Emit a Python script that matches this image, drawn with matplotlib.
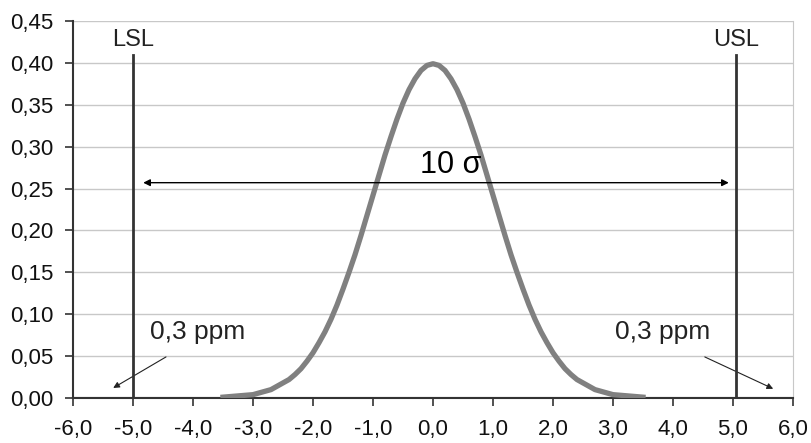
import numpy as np
import matplotlib.pyplot as plt

# curve (x step 0.1 in the middle)
x_curve = [-3.5] + [round(v, 1) for v in np.arange(-3.0, 3.01, 0.1)] + [3.5]
half = [0.004, 0.006, 0.008, 0.010, 0.014, 0.018, 0.022, 0.028, 0.035, 0.044,
        0.054, 0.066, 0.079, 0.094, 0.111, 0.130, 0.150, 0.171, 0.194, 0.218,
        0.242, 0.266, 0.290, 0.312, 0.333, 0.352, 0.368, 0.381, 0.391, 0.397]
y_curve = [0.001] + half + [0.399] + half[::-1] + [0.001]

spec_pos = [-5.0, 5.05]
spec_names = ["LSL", "USL"]
spec_top = 0.41
x_ticks = [-6, -5, -4, -3, -2, -1, 0, 1, 2, 3, 4, 5, 6]
y_ticks = [0.0, 0.05, 0.10, 0.15, 0.20, 0.25, 0.30, 0.35, 0.40, 0.45]

plt.rcParams['font.family'] = ['Liberation Sans', 'DejaVu Sans']

fig = plt.figure(figsize=(8.12, 4.43), dpi=100)
ax = fig.add_axes([0.0899, 0.1016, 0.8867, 0.851])

for yt in y_ticks[1:]:
    ax.axhline(yt, color="#c8c8c8", lw=1.0, zorder=0)

ax.plot(x_curve, y_curve, color="#808080", lw=3.8, solid_joinstyle="round", zorder=3)
ax.axhline(0, color="#333333", lw=2.2, zorder=2)

for xp, name in zip(spec_pos, spec_names):
    ax.plot([xp, xp], [0, spec_top], color="#333333", lw=2.0, zorder=4)
    ax.text(xp, 0.427, name, ha="center", va="center", fontsize=17, color="#222222")

ax.annotate("", xy=(-4.83, 0.257), xytext=(4.93, 0.257),
            arrowprops=dict(arrowstyle="<|-|>", color="black", lw=1.0,
                            mutation_scale=10, shrinkA=0, shrinkB=0))
ax.text(0.3, 0.278, "10 σ", ha="center", va="center", fontsize=22)

ax.text(-3.93, 0.079, "0,3 ppm", ha="center", va="center", fontsize=19, color="#222222")
ax.annotate("", xy=(-5.33, 0.012), xytext=(-4.45, 0.049),
            arrowprops=dict(arrowstyle="-|>", color="#222222", lw=0.8,
                            mutation_scale=9, shrinkA=0, shrinkB=0))
ax.text(3.82, 0.079, "0,3 ppm", ha="center", va="center", fontsize=19, color="#222222")
ax.annotate("", xy=(5.67, 0.011), xytext=(4.53, 0.049),
            arrowprops=dict(arrowstyle="-|>", color="#222222", lw=0.8,
                            mutation_scale=9, shrinkA=0, shrinkB=0))

ax.set_xlim(-6, 6)
ax.set_ylim(0, 0.45)
ax.set_xticks(x_ticks)
ax.set_xticklabels([f"{v:.1f}".replace(".", ",") for v in x_ticks])
ax.set_yticks(y_ticks)
ax.set_yticklabels([f"{v:.2f}".replace(".", ",") for v in y_ticks])
ax.tick_params(axis="both", labelsize=16, labelcolor="#111111", direction="out",
               length=6, width=1.2, color="#333333")
ax.tick_params(axis="x", pad=9)
ax.tick_params(axis="y", pad=8)

ax.spines["top"].set_visible(False)
ax.spines["right"].set_color("#c8c8c8")
ax.spines["left"].set_color("#333333")
ax.spines["left"].set_linewidth(1.5)
ax.spines["bottom"].set_color("#333333")
ax.spines["bottom"].set_linewidth(1.5)

fig.savefig("out.png", dpi=100)
